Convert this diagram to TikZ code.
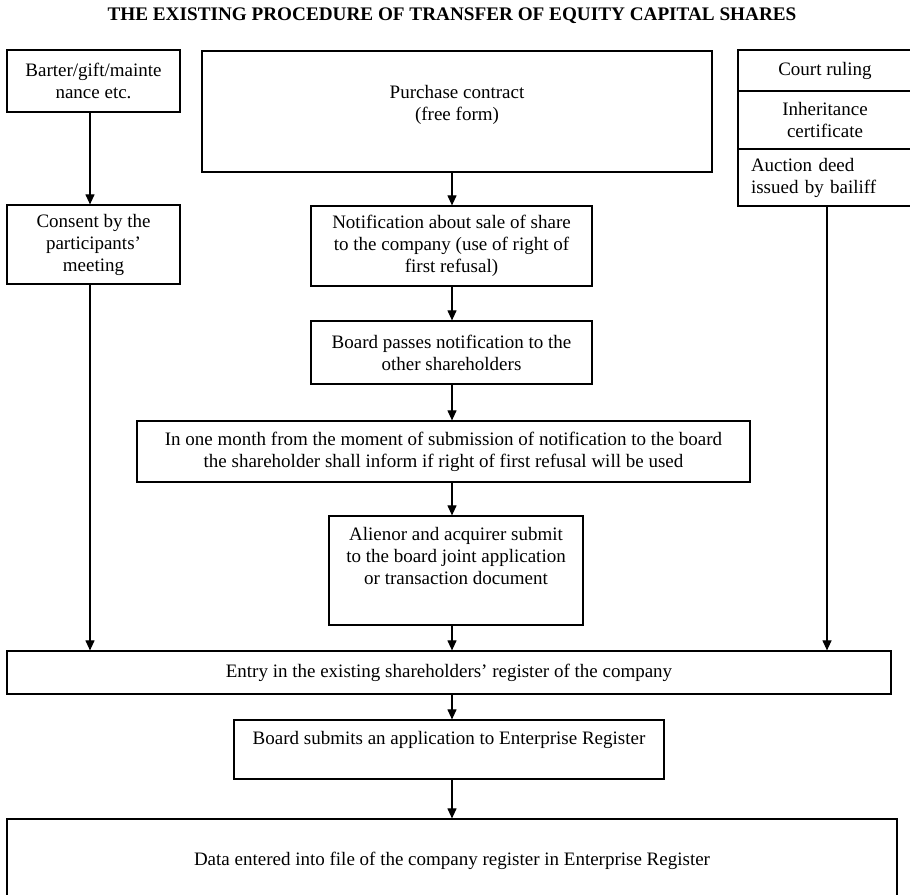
\documentclass[tikz,border=0pt]{standalone}
\usepackage{fontspec}
\setmainfont{Liberation Serif}
\usetikzlibrary{arrows.meta,positioning}

\newcommand{\boxfont}{\fontsize{19pt}{22pt}\selectfont}

\tikzset{
	box/.style={draw, line width=1.2pt, inner sep=0pt, align=center, font=\boxfont},
	txt/.style={inner sep=0pt, align=center, font=\boxfont},
	arr/.style={line width=1.1pt, -{Triangle[length=10pt,width=9pt]}}
}

\begin{document}
\begin{tikzpicture}[x=1pt,y=-1pt]
	\useasboundingbox (0,0) rectangle (910,894);
	\clip (0,0) rectangle (910,894);
	\node[font=\fontsize{19.2pt}{22pt}\selectfont\bfseries] (title) at (452,16) {THE EXISTING PROCEDURE OF TRANSFER OF EQUITY CAPITAL SHARES};
	% left column
	\node[box,minimum width=173pt,minimum height=62pt] (barter) at (93.5,81) {Barter/gift/mainte\\nance etc.};
	\node[box,minimum width=173pt,minimum height=79pt] (consent) at (93.5,244.5) {Consent by the\\participants'\\meeting};
	% right column
	\node[box,minimum width=174pt,minimum height=41pt] (court) at (825,70.5) {Court ruling};
	\node[box,minimum width=174pt,minimum height=58pt] (inherit) at (825,120) {Inheritance\\certificate};
	\node[box,minimum width=174pt,minimum height=57pt,align=left,text width=148pt] (auction) at (825,177.5) {Auction deed\\issued by bailiff};
	% middle column
	\node[box,minimum width=510pt,minimum height=121pt] (buy) at (457,111.5) {};
	\node[txt,below=35pt of buy.north] (buytxt) {Purchase contract\\(free form)};
	\node[box,minimum width=281pt,minimum height=80pt] (notice) at (451.5,246) {Notification about sale of share\\to the company (use of right of\\first refusal)};
	\node[box,minimum width=281pt,minimum height=63pt] (pass) at (451.5,352.5) {Board passes notification to the\\other shareholders};
	\node[box,minimum width=613pt,minimum height=61pt] (month) at (443.5,451.5) {In one month from the moment of submission of notification to the board\\the shareholder shall inform if right of first refusal will be used};
	\node[box,minimum width=254pt,minimum height=109pt] (alien) at (456,570.5) {};
	\node[txt,below=12pt of alien.north] (alientxt) {Alienor and acquirer submit\\to the board joint application\\or transaction document};
	% bottom rows
	\node[box,minimum width=884pt,minimum height=43pt] (entry) at (449,672.5) {Entry in the existing shareholders' register of the company};
	\node[box,minimum width=430pt,minimum height=59pt] (submit) at (449,749.5) {};
	\node[txt,below=12pt of submit.north] (submittxt) {Board submits an application to Enterprise Register};
	\node[box,minimum width=890pt,minimum height=84pt] (data) at (452,861) {Data entered into file of the company register in Enterprise Register};
	% arrows
	\coordinate (lft) at (90,0);
	\coordinate (mid) at (452,0);
	\coordinate (rgt) at (827,0);
	\path[arr] (barter.south -| lft) edge (consent.north -| lft)
		(consent.south -| lft) edge (entry.north -| lft)
		(auction.south -| rgt) edge (entry.north -| rgt)
		(buy.south -| mid) edge (notice.north -| mid)
		(notice.south -| mid) edge (pass.north -| mid)
		(pass.south -| mid) edge (month.north -| mid)
		(month.south -| mid) edge (alien.north -| mid)
		(alien.south -| mid) edge (entry.north -| mid)
		(entry.south -| mid) edge (submit.north -| mid)
		(submit.south -| mid) edge (data.north -| mid);
\end{tikzpicture}
\end{document}
